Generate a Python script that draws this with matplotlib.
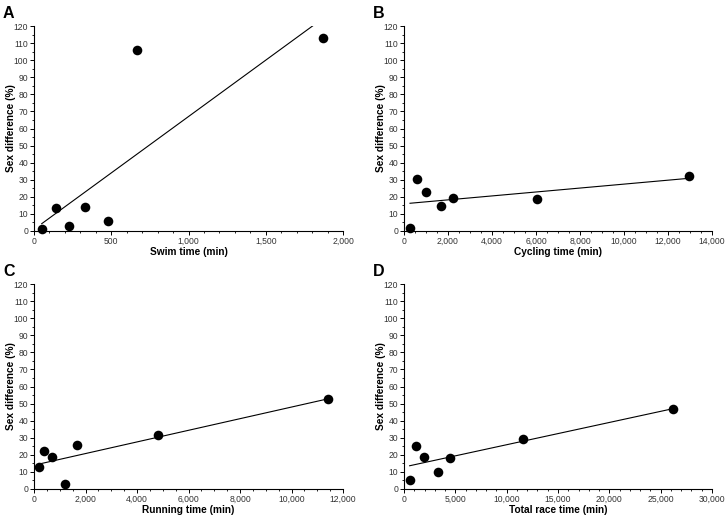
import numpy as np
import matplotlib
matplotlib.use("Agg")
import matplotlib.pyplot as plt
from matplotlib.ticker import MultipleLocator, FuncFormatter

plt.rcParams['font.family'] = ['Liberation Sans', 'DejaVu Sans']

# Data
swim_time = [50, 143, 227, 333, 479, 667, 1873]
swim_diff = [1.0, 13.5, 2.7, 14.0, 5.9, 106.0, 112.8]

cycling_time = [273, 591, 1000, 1697, 2227, 6030, 12955]
cycling_diff = [1.8, 30.4, 22.6, 14.6, 19.5, 18.9, 32.2]

running_time = [181, 402, 700, 1218, 1659, 4833, 11403]
running_diff = [12.9, 22.4, 18.9, 2.7, 25.8, 31.8, 52.5]

total_time = [551, 1166, 1944, 3272, 4438, 11565, 26240]
total_diff = [5.5, 25.4, 18.9, 10.1, 18.1, 29.5, 46.8]

panel_letters = ['A', 'B', 'C', 'D']
x_labels = ['Swim time (min)', 'Cycling time (min)', 'Running time (min)', 'Total race time (min)']
y_label = 'Sex difference (%)'
x_max = [2000, 14000, 12000, 30000]
x_major = [500, 2000, 2000, 5000]
x_minor = [100, 500, 500, 1000]

datasets = [(swim_time, swim_diff), (cycling_time, cycling_diff),
            (running_time, running_diff), (total_time, total_diff)]

fig = plt.figure(figsize=(7.26, 5.16), dpi=100)
W, H = 726, 516
boxes = [(34, 26, 343, 231), (404, 26, 712, 231), (34, 284, 343, 489), (404, 284, 712, 489)]

fmt = FuncFormatter(lambda v, p: f"{int(v):,}")

for i, ((x, y), (l, t, r, b)) in enumerate(zip(datasets, boxes)):
    ax = fig.add_axes([l / W, 1 - b / H, (r - l) / W, (b - t) / H])
    x = np.array(x, float)
    y = np.array(y, float)
    ax.scatter(x, y, s=48, color='black', zorder=3, clip_on=False, linewidths=0)
    k, c = np.polyfit(x, y, 1)
    xl = np.array([x.min(), x.max()])
    ax.plot(xl, k * xl + c, color='black', lw=0.8, zorder=2)
    ax.set_xlim(0, x_max[i])
    ax.set_ylim(0, 120)
    for s in ['top', 'right']:
        ax.spines[s].set_visible(False)
    for s in ['left', 'bottom']:
        ax.spines[s].set_linewidth(0.8)
    ax.xaxis.set_major_locator(MultipleLocator(x_major[i]))
    ax.xaxis.set_minor_locator(MultipleLocator(x_minor[i]))
    ax.yaxis.set_major_locator(MultipleLocator(10))
    ax.yaxis.set_minor_locator(MultipleLocator(5))
    ax.xaxis.set_major_formatter(fmt)
    ax.tick_params(which='major', length=3, width=0.7, labelsize=6.2, pad=1.2, labelcolor='#333333')
    ax.tick_params(which='minor', length=1.5, width=0.6)
    ax.set_xlabel(x_labels[i], fontsize=7.3, fontweight='bold', labelpad=0.5)
    ax.set_ylabel(y_label, fontsize=7.3, fontweight='bold', labelpad=-1.5)
    fig.text((l - 31) / W, 1 - (t - 12) / H, panel_letters[i], fontsize=11.5,
             fontweight='bold', ha='left', va='center')

fig.savefig('out.png', dpi=100)
